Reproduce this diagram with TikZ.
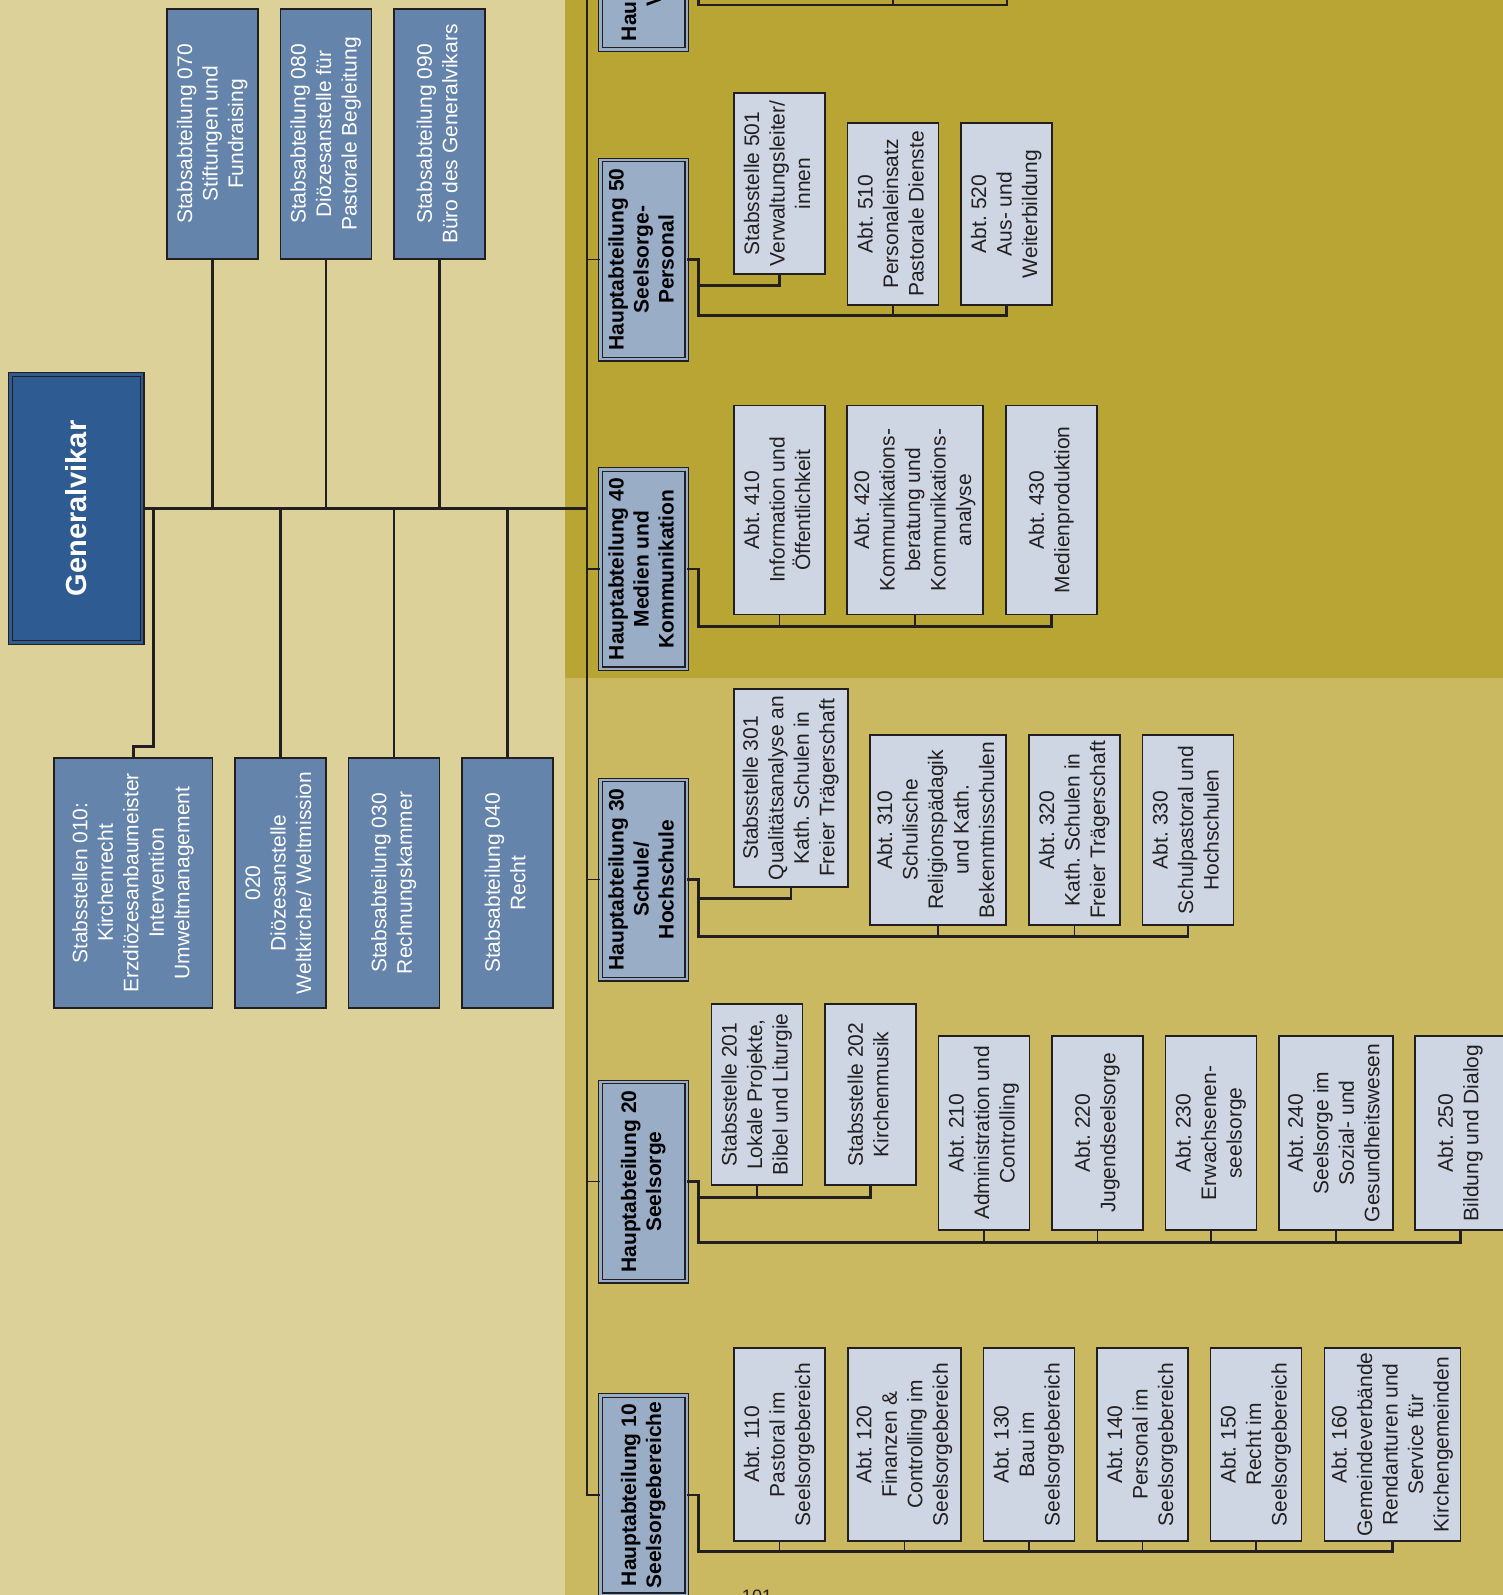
\documentclass[tikz,border=0pt]{standalone}
\usepackage{fontspec}
\setmainfont{Liberation Sans}
\frenchspacing

\definecolor{lighttan}{RGB}{220,210,153}
\definecolor{darkolive}{RGB}{185,165,52}
\definecolor{midolive}{RGB}{203,185,98}
\definecolor{staffblue}{RGB}{101,132,171}
\definecolor{chiefblue}{RGB}{46,91,145}
\definecolor{habox}{RGB}{154,173,199}
\definecolor{abtbox}{RGB}{205,214,226}
\definecolor{linecol}{RGB}{35,31,32}

% rotated multi-line box text
\newcommand{\vt}[1]{\rotatebox{90}{\begin{tabular}{@{}c@{}}#1\end{tabular}}}

\begin{document}
\begin{tikzpicture}[
    x=1pt, y=-1pt,
    node distance=113.5pt,
    txt/.style={inner sep=0pt, font=\fontsize{21}{25.5}\selectfont},
    staff/.style={txt, draw=linecol, line width=1.6pt, fill=staffblue, text=white, minimum width=91pt, minimum height=250pt},
    chief/.style={inner sep=0pt, draw=linecol, line width=1.2pt, double=chiefblue, double distance=2.6pt, fill=chiefblue, text=white, minimum width=131.7pt, minimum height=268pt, font=\bfseries\fontsize{29}{34}\selectfont},
    hauptabt/.style={txt, draw=linecol, line width=1.1pt, double=habox, double distance=2.4pt, fill=habox, text=black, minimum width=86.4pt, minimum height=199.4pt, font=\bfseries\fontsize{21}{25}\selectfont},
    abt/.style={txt, draw=linecol, line width=1.6pt, fill=abtbox, text=linecol, minimum width=91pt},
    conn/.style={draw=linecol, line width=2.9pt},
    stub/.style={draw=linecol, line width=1.2pt}
]
    \useasboundingbox (0,0) rectangle (1503,1595);
    \clip (0,0) rectangle (1503,1595);

    % Background areas
    \fill[lighttan] (0,0) rectangle (565,1595);
    \fill[darkolive] (565,0) rectangle (1503,678);
    \fill[midolive] (565,678) rectangle (1503,1595);

    % Generalvikar and staff units
    \node[chief] (gv) at (76.3,508.5) {\rotatebox{90}{Generalvikar}};

    \node[staff] (s070) at (212.5,134) {\vt{Stabsabteilung 070\\Stiftungen und\\Fundraising}};
    \node[staff, right of=s070] (s080) {\vt{Stabsabteilung 080\\Diözesanstelle für\\Pastorale Begleitung}};
    \node[staff, right of=s080] (s090) {\vt{Stabsabteilung 090\\Büro des Generalvikars}};

    \node[staff, minimum width=158.6pt] (s010) at (133.3,883) {\vt{Stabsstellen 010:\\Kirchenrecht\\Erzdiözesanbaumeister\\Intervention\\Umweltmanagement}};
    \node[staff, right of=s010, xshift=33.7pt] (s020) {\vt{020\\Diözesanstelle\\Weltkirche/ Weltmission}};
    \node[staff, right of=s020] (s030) {\vt{Stabsabteilung 030\\Rechnungskammer}};
    \node[staff, right of=s030] (s040) {\vt{Stabsabteilung 040\\Recht}};

    % Hauptabteilungen
    \node[hauptabt] (ha60) at (643.5,-50) {\vt{Hauptabteilung 60\\Verwaltung}};
    \node[hauptabt] (ha50) at (643.5,259.5) {\vt{Hauptabteilung 50\\Seelsorge-\\Personal}};
    \node[hauptabt] (ha40) at (643.5,569) {\vt{Hauptabteilung 40\\Medien und\\Kommunikation}};
    \node[hauptabt] (ha30) at (643.5,879.5) {\vt{Hauptabteilung 30\\Schule/\\Hochschule}};
    \node[hauptabt] (ha20) at (643.5,1181.5) {\vt{Hauptabteilung 20\\Seelsorge}};
    \node[hauptabt] (ha10) at (643.5,1495) {\vt{Hauptabteilung 10\\Seelsorgebereiche}};

    % HA 50
    \node[abt, minimum height=181pt] (a501) at (779.5,183.5) {\vt{Stabsstelle 501\\Verwaltungsleiter/\\innen}};
    \node[abt, minimum height=182pt, right of=a501, yshift=-30.5pt] (a510) {\vt{Abt. 510\\Personaleinsatz\\Pastorale Dienste}};
    \node[abt, minimum height=182pt, right of=a510] (a520) {\vt{Abt. 520\\Aus- und\\Weiterbildung}};

    % HA 40
    \node[abt, minimum height=209pt] (a410) at (779.5,510) {\vt{Abt. 410\\Information und\\Öffentlichkeit}};
    \node[abt, minimum height=209pt, minimum width=136pt, right of=a410, xshift=22pt] (a420) {\vt{Abt. 420\\Kommunikations-\\beratung und\\Kommunikations-\\analyse}};
    \node[abt, minimum height=209pt, right of=a420, xshift=23pt] (a430) {\vt{Abt. 430\\Medienproduktion}};

    % HA 30
    \node[abt, minimum height=198pt, minimum width=114pt] (a301) at (791,788) {\vt{Stabsstelle 301\\Qualitätsanalyse an\\Kath. Schulen in\\Freier Trägerschaft}};
    \node[abt, minimum height=190pt, minimum width=136pt, right of=a301, xshift=33.5pt, yshift=-42pt] (a310) {\vt{Abt. 310\\Schulische\\Religionspädagik\\und Kath.\\Bekenntnisschulen}};
    \node[abt, minimum height=190pt, right of=a310, xshift=23pt] (a320) {\vt{Abt. 320\\Kath. Schulen in\\Freier Trägerschaft}};
    \node[abt, minimum height=190pt, right of=a320] (a330) {\vt{Abt. 330\\Schulpastoral und\\Hochschulen}};

    % HA 20
    \node[abt, minimum height=181pt] (a201) at (757,1094.5) {\vt{Stabsstelle 201\\Lokale Projekte,\\Bibel und Liturgie}};
    \node[abt, minimum height=181pt, right of=a201] (a202) {\vt{Stabsstelle 202\\Kirchenmusik}};
    \node[abt, minimum height=194pt, right of=a202, yshift=-38.5pt] (a210) {\vt{Abt. 210\\Administration und\\Controlling}};
    \node[abt, minimum height=194pt, right of=a210] (a220) {\vt{Abt. 220\\Jugendseelsorge}};
    \node[abt, minimum height=194pt, right of=a220] (a230) {\vt{Abt. 230\\Erwachsenen-\\seelsorge}};
    \node[abt, minimum height=194pt, minimum width=114pt, right of=a230, xshift=11.5pt] (a240) {\vt{Abt. 240\\Seelsorge im\\Sozial- und\\Gesundheitswesen}};
    \node[abt, minimum height=194pt, right of=a240, xshift=11pt] (a250) {\vt{Abt. 250\\Bildung und Dialog}};

    % HA 10
    \node[abt, minimum height=193pt] (a110) at (779.5,1444.5) {\vt{Abt. 110\\Pastoral im\\Seelsorgebereich}};
    \node[abt, minimum height=193pt, minimum width=113.5pt, right of=a110, xshift=11.5pt] (a120) {\vt{Abt. 120\\Finanzen \&\\Controlling im\\Seelsorgebereich}};
    \node[abt, minimum height=193pt, right of=a120, xshift=11pt] (a130) {\vt{Abt. 130\\Bau im\\Seelsorgebereich}};
    \node[abt, minimum height=193pt, right of=a130] (a140) {\vt{Abt. 140\\Personal im\\Seelsorgebereich}};
    \node[abt, minimum height=193pt, right of=a140] (a150) {\vt{Abt. 150\\Recht im\\Seelsorgebereich}};
    \node[abt, minimum height=193pt, minimum width=136pt, right of=a150, xshift=23pt] (a160) {\vt{Abt. 160\\Gemeindeverbände\\Rendanturen und\\Service für\\Kirchengemeinden}};

    % page number
    \node[txt, font=\fontsize{18}{20}\selectfont, text=linecol, anchor=north] (pnum) at (757,1590) {101};

    % Connectors: staff
    \coordinate (spine) at (587,-10);
    \draw[conn] (gv.east) -- (gv.east -| spine);
    \foreach \s in {s070,s080,s090}
        \draw[conn] (\s.south) -- (\s.south |- gv.east);
    \foreach \s in {s020,s030,s040}
        \draw[conn] (\s.north) -- (\s.north |- gv.east);
    \draw[conn] (s010.north) -- ++(0,-11) -| ([xshift=10.5pt]gv.east);

    % Connectors: spine to Hauptabteilungen
    \draw[conn] (spine) |- (ha10.west);
    \foreach \h in {ha60,ha50,ha40,ha30,ha20}
        \draw[stub] (\h.west) -- (\h.west -| spine);

    % Connectors: HA 60 (cut off)
    \coordinate (t610) at (893,-6);
    \coordinate (t620) at (1007,-6);
    \draw[conn] (ha60.east) -- ++(11,0) |- ([yshift=-11pt]t620) -- (t620);
    \draw[stub] (t610) -- ++(0,11);

    % Connectors: HA 50
    \draw[conn] (ha50.east) -- ++(11,0) coordinate (k50) |- ([yshift=-10pt]a520.south) -- (a520.south);
    \draw[conn] (k50) |- ([yshift=-11pt]a501.south) -- (a501.south);
    \draw[stub] (a510.south) -- ++(0,10);

    % Connectors: HA 40
    \draw[conn] (ha40.east) -- ++(11,0) |- ([yshift=-11pt]a430.south) -- (a430.south);
    \foreach \b in {a410,a420}
        \draw[stub] (\b.south) -- ++(0,11);

    % Connectors: HA 30
    \draw[conn] (ha30.east) -- ++(11,0) coordinate (k30) |- ([yshift=-11pt]a330.south) -- (a330.south);
    \draw[conn] (k30) |- ([yshift=-11pt]a301.south) -- (a301.south);
    \foreach \b in {a310,a320}
        \draw[stub] (\b.south) -- ++(0,11);

    % Connectors: HA 20
    \draw[conn] (ha20.east) -- ++(11,0) coordinate (k20) |- ([yshift=-12pt]a250.south) -- (a250.south);
    \draw[conn] (k20) |- ([yshift=-12pt]a202.south) -- (a202.south);
    \foreach \b in {a201,a210,a220,a230,a240}
        \draw[stub] (\b.south) -- ++(0,12);

    % Connectors: HA 10
    \draw[conn] (ha10.east) -- ++(11,0) |- ([yshift=-10pt]a160.south) -- (a160.south);
    \foreach \b in {a110,a120,a130,a140,a150}
        \draw[stub] (\b.south) -- ++(0,10);
\end{tikzpicture}
\end{document}
